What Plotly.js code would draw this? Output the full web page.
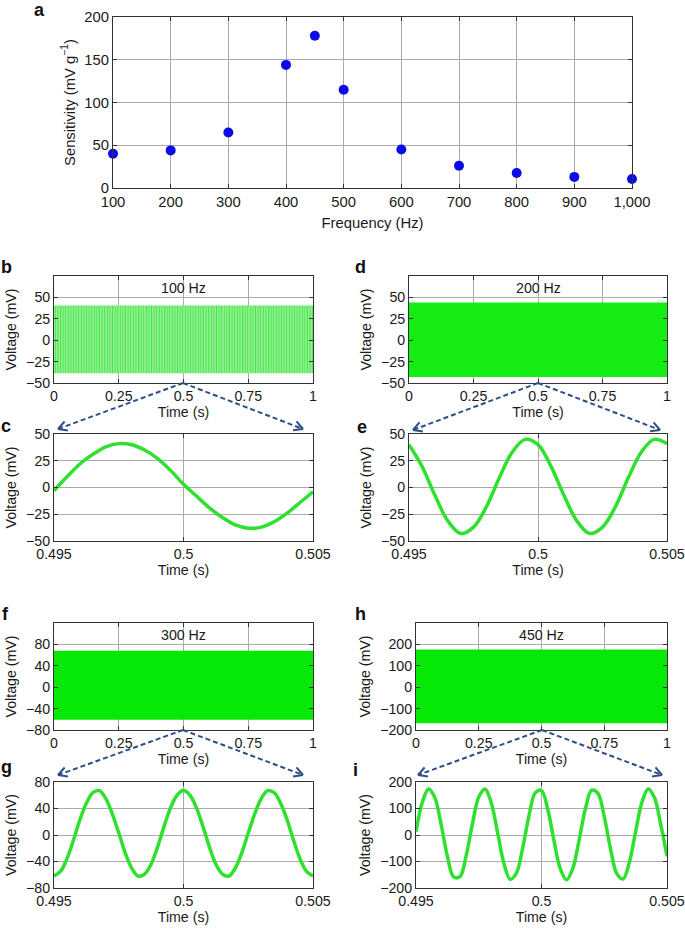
<!DOCTYPE html>
<html>
<head>
<meta charset="utf-8">
<script src="https://cdn.plot.ly/plotly-3.0.1.min.js"></script>
<style>
html,body{margin:0;padding:0;background:#fff;}
#chart{width:685px;height:929px;}
</style>
</head>
<body>
<div id="chart"></div>
<script>
// ---------- data ----------
const freqHz = [100, 200, 300, 400, 450, 500, 600, 700, 800, 900, 1000];
const sensitivity = [40, 44, 65, 144, 178, 115, 45, 26, 17.5, 13, 10.5];
const freqTicks = [100, 200, 300, 400, 500, 600, 700, 800, 900, 1000];

const fullTimeTicks = [0, 0.25, 0.5, 0.75, 1];
const zoomTimeTicks = [0.495, 0.5, 0.505];

// dense 1 s recordings: envelope (peak values) of the oscillation
const denseTime = [0, 1];
const env100Upper = [40.5, 40.5];
const env100Lower = [-38.5, -38.5];
const env200Upper = [44, 44];
const env200Lower = [-43, -43];
const env300Upper = [68, 68];
const env300Lower = [-61, -61];
const env450Upper = [176, 176];
const env450Lower = [-168, -168];

// zoomed windows 0.495 - 0.505 s
const tCoarse = [0.495, 0.4955, 0.496, 0.4965, 0.497, 0.4975, 0.498, 0.4985, 0.499, 0.4995, 0.5,
                 0.5005, 0.501, 0.5015, 0.502, 0.5025, 0.503, 0.5035, 0.504, 0.5045, 0.505];
const tFine = [0.495, 0.49525, 0.4955, 0.49575, 0.496, 0.49625, 0.4965, 0.49675, 0.497, 0.49725,
               0.4975, 0.49775, 0.498, 0.49825, 0.4985, 0.49875, 0.499, 0.49925, 0.4995, 0.49975,
               0.5, 0.50025, 0.5005, 0.50075, 0.501, 0.50125, 0.5015, 0.50175, 0.502, 0.50225,
               0.5025, 0.50275, 0.503, 0.50325, 0.5035, 0.50375, 0.504, 0.50425, 0.5045, 0.50475, 0.505];
const v100 = [-3, 10, 22, 31, 38, 41, 40, 35, 27, 16, 3, -8, -19, -28, -35, -38, -37, -32, -24, -14, -4];
const v200 = [40, 20, -7, -31, -43, -37, -18, 9, 33, 45, 40, 20, -7, -31, -43, -37, -18, 9, 33, 45, 41];
const v300 = [-62, -55, -36, -8, 23, 48, 64, 67, 55, 32, 3, -27, -50, -62, -59, -44, -18, 13, 41, 60, 67,
              60, 41, 13, -18, -44, -59, -62, -50, -27, 3, 32, 55, 67, 64, 48, 23, -8, -36, -55, -62];
const v450 = [12, 123, 174, 141, 40, -80, -158, -157, -77, 43, 143, 174, 121, 9, -106, -167, -144, -49, 72, 159, 168,
              96, -22, -128, -169, -125, -18, 99, 169, 157, 69, -52, -146, -166, -103, 13, 123, 174, 141, 39, -80];

const panelLetters = ['a', 'b', 'c', 'd', 'e', 'f', 'g', 'h', 'i'];
const freqTitles = ['100 Hz', '200 Hz', '300 Hz', '450 Hz'];

// ---------- layout helpers ----------
const W = 685, H = 929;
const FONT = 'Liberation Sans, Arial, Helvetica, sans-serif';
const TXT = '#1a1a1a';
const FS = 14.2;
function dx(a, b) { return [a / W, b / W]; }
function dy(top, bottom) { return [1 - bottom / H, 1 - top / H]; }
function px(x) { return x / W; }
function py(y) { return 1 - y / H; }

function axis(extra) {
  return Object.assign({
    showline: true, mirror: 'ticks', linecolor: '#333', linewidth: 1,
    ticks: 'inside', ticklen: 4, tickcolor: '#333',
    showgrid: true, gridcolor: '#ababab', gridwidth: 1, zeroline: false,
    tickfont: {size: FS, color: TXT, family: FONT},
    ticklabeloverflow: 'allow',
    fixedrange: true
  }, extra);
}
function xTitle(t, standoff) { return {text: t, font: {size: FS, color: TXT}, standoff: standoff}; }
function yTitle(t, standoff) { return {text: t, font: {size: FS, color: TXT}, standoff: standoff}; }

const GREEN_LINE = '#2fe02f';
const traces = [];

// a: sensitivity
traces.push({x: freqHz, y: sensitivity, mode: 'markers', xaxis: 'x', yaxis: 'y',
  marker: {color: '#0b0be8', size: 10}, cliponaxis: false, showlegend: false, hoverinfo: 'x+y'});

// dense panels
function band(ax, lower, upper, fillcolor, pattern) {
  traces.push({x: denseTime, y: lower, mode: 'lines', line: {width: 0, color: fillcolor},
    xaxis: 'x' + ax, yaxis: 'y' + ax, showlegend: false, hoverinfo: 'skip'});
  const t = {x: denseTime, y: upper, mode: 'lines', line: {width: 0, color: fillcolor},
    fill: 'tonexty', fillcolor: fillcolor,
    xaxis: 'x' + ax, yaxis: 'y' + ax, showlegend: false, hoverinfo: 'skip'};
  if (pattern) t.fillpattern = pattern;
  traces.push(t);
}
band(2, env100Lower, env100Upper, '#7eee7e',
  {shape: '|', size: 2.6, solidity: 0.4, fgcolor: '#48e448', bgcolor: '#98f298', fillmode: 'replace'});
band(4, env200Lower, env200Upper, '#14ec14');
band(6, env300Lower, env300Upper, '#06e806');
band(8, env450Lower, env450Upper, '#06e806');

// zoomed panels
function wave(ax, t, v) {
  traces.push({x: t, y: v, mode: 'lines', line: {color: GREEN_LINE, width: 3.5, shape: 'spline', smoothing: 1},
    xaxis: 'x' + ax, yaxis: 'y' + ax, showlegend: false});
}
wave(3, tCoarse, v100);
wave(5, tCoarse, v200);
wave(7, tFine, v300);
wave(9, tFine, v450);

// ---------- axes ----------
const L1 = 54, R1 = 313, L2 = 409, R2 = 667, L2w = 416;
const layout = {
  width: W, height: H, margin: {l: 0, r: 0, t: 0, b: 0},
  paper_bgcolor: '#fff', plot_bgcolor: '#fff',
  font: {family: FONT, size: FS, color: TXT},
  showlegend: false,
  xaxis: axis({domain: dx(113, 632), anchor: 'y', range: [100, 1000], tickvals: freqTicks, tickformat: ',d',
    tickfont: {size: 14.8, color: TXT, family: FONT},
    title: {text: 'Frequency (Hz)', font: {size: 14.8, color: TXT}, standoff: 8}}),
  yaxis: axis({domain: dy(17, 188), anchor: 'x', range: [0, 200], dtick: 50,
    tickfont: {size: 14.8, color: TXT, family: FONT},
    title: {text: 'Sensitivity (mV g<sup>−1</sup>)', font: {size: 14.8, color: TXT}, standoff: 5}}),

  xaxis2: axis({domain: dx(L1, R1), anchor: 'y2', range: [0, 1], tickvals: fullTimeTicks, title: xTitle('Time (s)', 4)}),
  yaxis2: axis({domain: dy(276, 383), anchor: 'x2', range: [-50, 75], tickvals: [-50, -25, 0, 25, 50], title: yTitle('Voltage (mV)', 6)}),
  xaxis3: axis({domain: dx(L1, R1), anchor: 'y3', range: [0.495, 0.505], tickvals: zoomTimeTicks, title: xTitle('Time (s)', 4)}),
  yaxis3: axis({domain: dy(434, 541), anchor: 'x3', range: [-50, 50], tickvals: [-50, -25, 0, 25, 50], title: yTitle('Voltage (mV)', 6)}),

  xaxis4: axis({domain: dx(L2, R2), anchor: 'y4', range: [0, 1], tickvals: fullTimeTicks, title: xTitle('Time (s)', 4)}),
  yaxis4: axis({domain: dy(276, 383), anchor: 'x4', range: [-50, 75], tickvals: [-50, -25, 0, 25, 50], title: yTitle('Voltage (mV)', 6)}),
  xaxis5: axis({domain: dx(L2, R2), anchor: 'y5', range: [0.495, 0.505], tickvals: zoomTimeTicks, title: xTitle('Time (s)', 4)}),
  yaxis5: axis({domain: dy(434, 541), anchor: 'x5', range: [-50, 50], tickvals: [-50, -25, 0, 25, 50], title: yTitle('Voltage (mV)', 6)}),

  xaxis6: axis({domain: dx(L1, R1), anchor: 'y6', range: [0, 1], tickvals: fullTimeTicks, title: xTitle('Time (s)', 4)}),
  yaxis6: axis({domain: dy(623, 730), anchor: 'x6', range: [-80, 120], tickvals: [-80, -40, 0, 40, 80], title: yTitle('Voltage (mV)', 6)}),
  xaxis7: axis({domain: dx(L1, R1), anchor: 'y7', range: [0.495, 0.505], tickvals: zoomTimeTicks, title: xTitle('Time (s)', 4)}),
  yaxis7: axis({domain: dy(782, 888), anchor: 'x7', range: [-80, 80], tickvals: [-80, -40, 0, 40, 80], title: yTitle('Voltage (mV)', 6)}),

  xaxis8: axis({domain: dx(L2w, R2), anchor: 'y8', range: [0, 1], tickvals: fullTimeTicks, title: xTitle('Time (s)', 4)}),
  yaxis8: axis({domain: dy(623, 730), anchor: 'x8', range: [-200, 300], tickvals: [-200, -100, 0, 100, 200], title: yTitle('Voltage (mV)', 6)}),
  xaxis9: axis({domain: dx(L2w, R2), anchor: 'y9', range: [0.495, 0.505], tickvals: zoomTimeTicks, title: xTitle('Time (s)', 4)}),
  yaxis9: axis({domain: dy(782, 888), anchor: 'x9', range: [-200, 200], tickvals: [-200, -100, 0, 100, 200], title: yTitle('Voltage (mV)', 6)}),
  annotations: [],
  shapes: []
};

// panel letters
const letterPos = [[39, 10], [6, 267], [6, 426], [361, 267], [362, 427], [5, 614], [6, 767], [361, 614], [355, 770]];
panelLetters.forEach((s, k) => {
  layout.annotations.push({text: '<b>' + s + '</b>', xref: 'paper', yref: 'paper',
    x: px(letterPos[k][0]), y: py(letterPos[k][1]), xanchor: 'center', yanchor: 'middle',
    showarrow: false, font: {size: 18, color: '#111', family: FONT}});
});

// frequency labels inside dense panels
[2, 4, 6, 8].forEach((ax, k) => {
  layout.annotations.push({text: freqTitles[k], xref: 'x' + ax + ' domain', yref: 'y' + ax + ' domain',
    x: 0.5, y: 0.885, xanchor: 'center', yanchor: 'middle', showarrow: false,
    font: {size: FS, color: TXT, family: FONT}});
});

// dashed zoom arrows
const ARROW = '#2d4f86';
const arrows = [[183, 383, 58, 429], [183, 383, 303, 429], [538, 383, 413, 430], [538, 383, 660, 430],
                [183, 730, 58, 775], [183, 730, 303, 775], [542, 730, 418, 775], [542, 730, 662, 775]];
arrows.forEach(a => {
  const [x0, y0, x1, y1] = a;
  layout.shapes.push({type: 'line', xref: 'paper', yref: 'paper', x0: px(x0), y0: py(y0), x1: px(x1), y1: py(y1),
    line: {color: ARROW, width: 2, dash: '5px,3px'}});
  const ang = Math.atan2(y1 - y0, x1 - x0);
  const len = 10, spread = 0.5;
  [ang + Math.PI - spread, ang + Math.PI + spread].forEach(b => {
    layout.shapes.push({type: 'line', xref: 'paper', yref: 'paper',
      x0: px(x1), y0: py(y1), x1: px(x1 + len * Math.cos(b)), y1: py(y1 + len * Math.sin(b)),
      line: {color: ARROW, width: 2}});
  });
});

Plotly.newPlot('chart', traces, layout, {staticPlot: true, displayModeBar: false});
</script>
</body>
</html>
